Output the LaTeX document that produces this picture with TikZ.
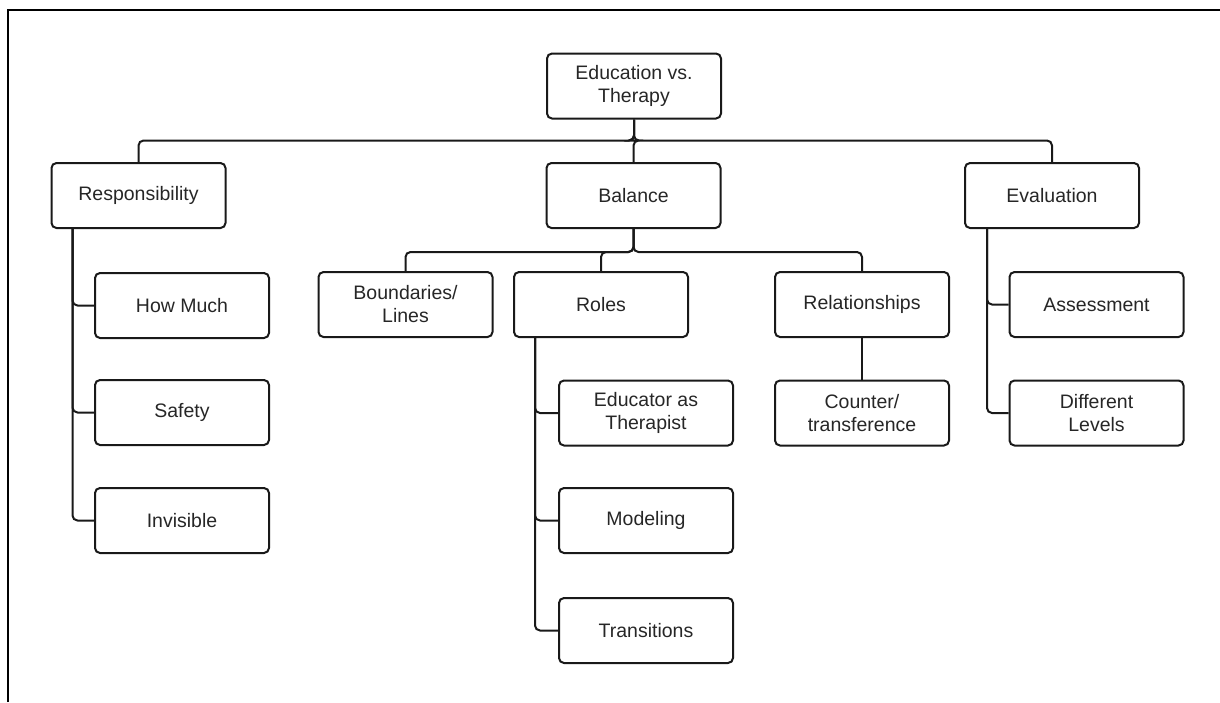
\documentclass[tikz,border=0pt]{standalone}
\usepackage{fontspec}
\setmainfont{Liberation Sans}
\usetikzlibrary{calc}
\begin{document}
\begin{tikzpicture}[x=1pt,y=-1pt,
  box/.style={draw=black!90, line width=2pt, rounded corners=5pt,
    minimum width=174pt, minimum height=65pt, inner sep=0pt, align=center,
    text=black!85, font=\fontsize{19.5}{23}\selectfont},
  conn/.style={draw=black!90, line width=2pt, rounded corners=5pt},
  frame/.style={draw=black, line width=2.5pt}]
\useasboundingbox (0,0) rectangle (1220,702);
% outer frame (top and left edges)
\coordinate (fb) at (8,702);
\coordinate (fc) at (8,10);
\coordinate (fr) at (1220,10);
\draw[frame] (fb) -- (fc) -- (fr);

% top level
\node[box] (root) at (634,86) {Education vs.\\Therapy};
\node[box] (resp) at (138.5,195.5) {Responsibility};
\node[box] (bal) at (633.5,195.5) {Balance};
\node[box] (eval) at (1052,195.5) {Evaluation};

% responsibility branch
\node[box] (howmuch) at (182,305.5) {How Much};
\node[box] (safety) at (182,412.5) {Safety};
\node[box] (invis) at (182,520.5) {Invisible};

% balance branch
\node[box] (bound) at (405.5,304.5) {Boundaries/\\Lines};
\node[box] (roles) at (601,304.5) {Roles};
\node[box] (rel) at (862,304.5) {Relationships};
\node[box] (counter) at (862,413) {Counter/\\transference};
\node[box] (educ) at (646,413) {Educator as\\Therapist};
\node[box] (model) at (646,520.5) {Modeling};
\node[box] (trans) at (646,630.5) {Transitions};

% evaluation branch
\node[box] (assess) at (1096.5,304.5) {Assessment};
\node[box] (diff) at (1096.5,413) {Different\\Levels};

% connectors from the root
\foreach \c in {resp,bal,eval}
  \draw[conn] (root.south) -- ++(0,21) -| (\c.north);

% connectors under Balance
\foreach \c in {bound,roles,rel}
  \draw[conn] (bal.south) -- ++(0,23) -| (\c.north);
\draw[conn] (rel.south) -- (counter.north);

% side rails
\coordinate (rr) at ($(resp.south west)+(22,0)$);
\foreach \c in {howmuch,safety,invis}
  \draw[conn] (rr) |- (\c.west);
\coordinate (ro) at ($(roles.south west)+(22,0)$);
\foreach \c in {educ,model,trans}
  \draw[conn] (ro) |- (\c.west);
\coordinate (er) at ($(eval.south west)+(23,0)$);
\foreach \c in {assess,diff}
  \draw[conn] (er) |- (\c.west);
\end{tikzpicture}
\end{document}
